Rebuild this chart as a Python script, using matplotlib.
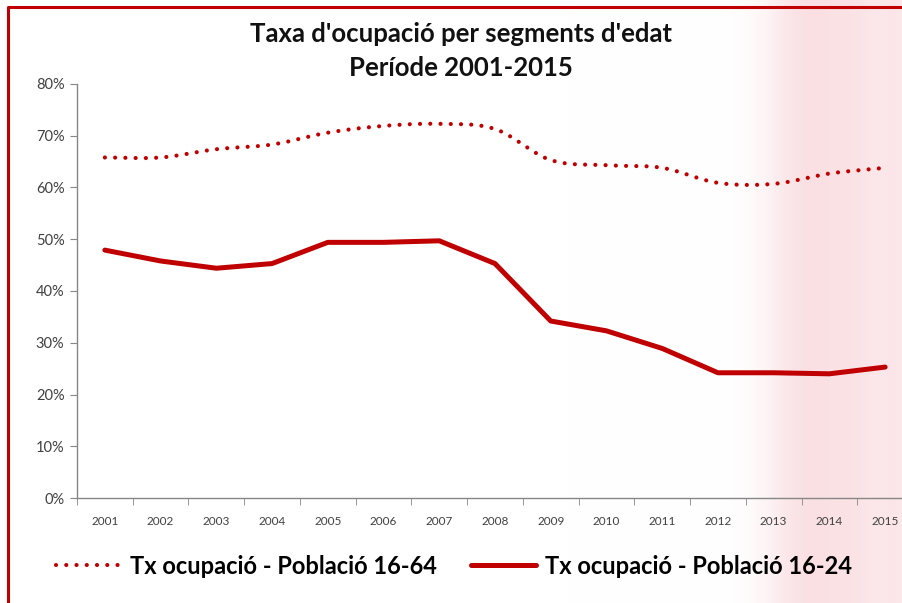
import numpy as np
import matplotlib
matplotlib.use("Agg")
import matplotlib.pyplot as plt

# Data
years = ["2001", "2002", "2003", "2004", "2005", "2006", "2007", "2008",
         "2009", "2010", "2011", "2012", "2013", "2014", "2015"]
tx_16_64 = [65.8, 65.8, 67.4, 68.3, 70.6, 71.9, 72.3, 71.3,
            65.3, 64.3, 63.8, 60.9, 60.7, 62.7, 63.8]
tx_16_24 = [47.9, 45.8, 44.4, 45.3, 49.4, 49.4, 49.7, 45.3,
            34.2, 32.3, 28.9, 24.2, 24.2, 24.0, 25.3]

title = "Taxa d'ocupació per segments d'edat\nPeríode 2001-2015"
label_64 = "Tx ocupació - Població 16-64"
label_24 = "Tx ocupació - Població 16-24"

RED = "#C00000"
GREY = "#868686"
plt.rcParams['font.family'] = ['Lato', 'DejaVu Sans']


# Excel style smoothed line (Catmull-Rom through the points)
def smooth(x, y, n=20):
    x = np.asarray(x, float)
    y = np.asarray(y, float)
    px = np.concatenate([[2 * x[0] - x[1]], x, [2 * x[-1] - x[-2]]])
    py = np.concatenate([[2 * y[0] - y[1]], y, [2 * y[-1] - y[-2]]])
    xs, ys = [], []
    t = np.linspace(0, 1, n, endpoint=False)
    for i in range(1, len(px) - 2):
        for p, out in ((px, xs), (py, ys)):
            p0, p1, p2, p3 = p[i - 1], p[i], p[i + 1], p[i + 2]
            out.extend(0.5 * (2 * p1 + (-p0 + p2) * t
                              + (2 * p0 - 5 * p1 + 4 * p2 - p3) * t ** 2
                              + (-p0 + 3 * p1 - 3 * p2 + p3) * t ** 3))
    xs.append(x[-1])
    ys.append(y[-1])
    return np.array(xs), np.array(ys)


W, H = 903, 603
fig = plt.figure(figsize=(W / 100, H / 100), dpi=100)
fig.patch.set_facecolor("white")

# background layer in pixel coordinates (pink band + red frame)
bg = fig.add_axes([0, 0, 1, 1], zorder=-5)
bg.axis("off")
xx = np.linspace(0, W, 450)
pink = (0.55 * np.exp(-((xx - 805) / 40) ** 2)
        + 0.45 * np.exp(-((xx - 860) / 35) ** 2)
        + 0.35 * np.exp(-((xx - 900) / 20) ** 2))
pink = np.clip(pink, 0, 1)[None, :]
img = np.ones((1, 450, 3))
img[..., 1] -= 0.2 * pink
img[..., 2] -= 0.18 * pink
img[..., 0] -= 0.03 * pink
bg.imshow(img, extent=[0, W, H, 0], aspect="auto")
bg.plot([8, 8, W], [H, 7, 7], color=RED, lw=2.2)
bg.set_xlim(0, W)
bg.set_ylim(H, 0)

ax = fig.add_axes([77 / W, 105 / H, 836 / W, 414 / H])
ax.patch.set_alpha(0)
x = np.arange(len(years))

sx, sy = smooth(x, tx_16_64)
ax.plot(sx, sy, color=RED, lw=3.0, linestyle=(0, (0.01, 2.45)),
        dash_capstyle="round", label=label_64)
ax.plot(x, tx_16_24, color=RED, lw=3.6, solid_joinstyle="round",
        solid_capstyle="round", label=label_24)

ax.set_xlim(-0.5, len(years) - 0.5)
ax.set_ylim(0, 80)
ax.set_yticks(np.arange(0, 81, 10))
ax.set_yticklabels([f"{v}%" for v in range(0, 81, 10)], fontsize=10.5, color="#404040")
ax.set_xticks(x)
ax.set_xticklabels(years, fontsize=8.5, color="#404040")
ax.set_xticks(np.arange(-0.5, len(years), 1), minor=True)
ax.tick_params(axis="x", which="major", length=0, pad=13)
ax.tick_params(axis="x", which="minor", length=5, color=GREY, direction="out")
ax.tick_params(axis="y", length=5, color=GREY, direction="out", pad=4)
for s in ("top", "right"):
    ax.spines[s].set_visible(False)
for s in ("left", "bottom"):
    ax.spines[s].set_color(GREY)
    ax.spines[s].set_linewidth(1.0)

fig.text(0.511, 1 - 51 / H, title, ha="center", va="center", fontsize=18.5,
         fontweight="bold", color="#111111", linespacing=1.55)

fig.legend(loc="center", bbox_to_anchor=(0.503, 1 - 566 / H), ncol=2,
           frameon=False, handlelength=2.75, handletextpad=0.37,
           columnspacing=1.45, prop={"weight": "bold", "size": 17})

fig.savefig("out.png", dpi=100)
